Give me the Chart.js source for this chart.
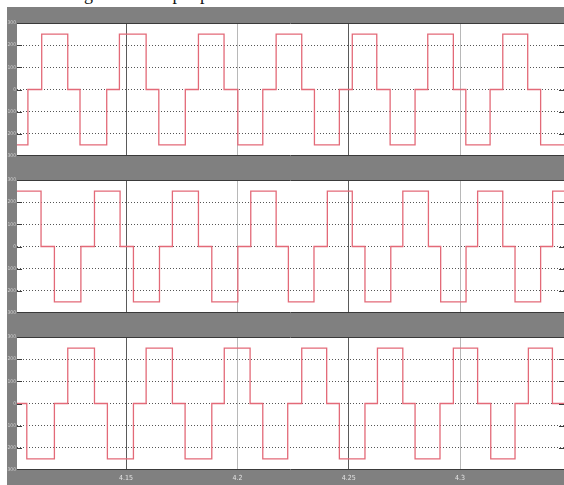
<!DOCTYPE html>
<html>
<head>
<meta charset="utf-8">
<script src="https://cdn.jsdelivr.net/npm/chart.js@4"></script>
<style>
  body { margin: 0; background: #fff; width: 564px; height: 485px; overflow: hidden; position: relative; }
  #caption { position: absolute; left: 2px; top: -16px; font-family: "Liberation Serif", serif; font-size: 18px; color: #111; white-space: nowrap; }
  #frame { position: absolute; left: 7px; top: 7px; width: 557px; height: 478px; background: #808080; }
  canvas { position: absolute; left: 7px; }
</style>
</head>
<body>
<div id="caption">of the voltage at the output phases is shown below.</div>
<div id="frame"></div>
<canvas id="top" width="557" height="143" style="top:18px"></canvas>
<canvas id="mid" width="557" height="143" style="top:175px"></canvas>
<canvas id="bot" width="557" height="153" style="top:332px"></canvas>
<script>
// time axis (s)
const xMin = 4.101;
const xMax = 4.3467;
const xTicks = [4.15, 4.2, 4.25, 4.3];
const yTicks = [-300, -200, -100, 0, 100, 200, 300];

// switching instants and the level held after each one
const topEdges = [4.101, 4.1059, 4.1121, 4.1238, 4.1293, 4.1413, 4.1470, 4.1590, 4.1647, 4.1766,
  4.1825, 4.1940, 4.2002, 4.2114, 4.2174, 4.2289, 4.2346, 4.2458, 4.2516, 4.2626,
  4.2686, 4.2798, 4.2855, 4.2970, 4.3026, 4.3135, 4.3192, 4.3304, 4.3362];
const topLevels = [-250, 0, 250, 0, -250, 0, 250, 0, -250, 0,
  250, 0, -250, 0, 250, 0, -250, 0, 250, 0,
  -250, 0, 250, 0, -250, 0, 250, 0, -250];

const midEdges = [4.101, 4.1118, 4.1178, 4.1297, 4.1358, 4.1473, 4.1533, 4.1650, 4.1708, 4.1825,
  4.1885, 4.2002, 4.2060, 4.2174, 4.2229, 4.2344, 4.2404, 4.2516, 4.2573, 4.2689,
  4.2743, 4.2858, 4.2913, 4.3027, 4.3079, 4.3192, 4.3247, 4.3362, 4.3416];
const midLevels = [250, 0, -250, 0, 250, 0, -250, 0, 250, 0,
  -250, 0, 250, 0, -250, 0, 250, 0, -250, 0,
  250, 0, -250, 0, 250, 0, -250, 0, 250];

const botEdges = [4.101, 4.1054, 4.1178, 4.1238, 4.1358, 4.1416, 4.1533, 4.1590, 4.1708, 4.1765,
  4.1885, 4.1941, 4.2057, 4.2114, 4.2226, 4.2289, 4.2401, 4.2458, 4.2573, 4.2629,
  4.2743, 4.2798, 4.2910, 4.2970, 4.3079, 4.3138, 4.3247, 4.3307, 4.3415];
const botLevels = [0, -250, 0, 250, 0, -250, 0, 250, 0, -250,
  0, 250, 0, -250, 0, 250, 0, -250, 0, 250,
  0, -250, 0, 250, 0, -250, 0, 250, 0];

// white plot area, dark frame lines and small ticks at the grid rows
const panelPlugin = {
  id: 'panel',
  beforeDraw(chart) {
    const a = chart.chartArea, c = chart.ctx;
    c.save();
    c.fillStyle = '#ffffff';
    c.fillRect(a.left, a.top, a.right - a.left, a.bottom - a.top);
    c.restore();
  },
  afterDraw(chart) {
    const a = chart.chartArea, c = chart.ctx, y = chart.scales.y;
    c.save();
    c.strokeStyle = '#3a3a3a';
    c.lineWidth = 1;
    c.beginPath();
    c.moveTo(a.left, a.top + 0.5); c.lineTo(a.right, a.top + 0.5);
    c.moveTo(a.left, a.bottom - 0.5); c.lineTo(a.right, a.bottom - 0.5);
    yTicks.slice(1, -1).forEach(v => {
      const py = Math.round(y.getPixelForValue(v)) + 0.5;
      c.moveTo(a.left, py); c.lineTo(a.left + 5, py);
      c.moveTo(a.right - 5, py); c.lineTo(a.right, py);
    });
    c.stroke();
    c.restore();
  }
};

function makePanel(id, edges, levels, showX) {
  const pts = edges.map((t, i) => ({ x: t, y: levels[i] }));
  pts.push({ x: xMax, y: levels[levels.length - 1] });

  new Chart(document.getElementById(id), {
    type: 'line',
    data: {
      datasets: [{
        data: pts,
        stepped: true,
        borderColor: '#e36a78',
        borderWidth: 1.3,
        pointRadius: 0,
        fill: false
      }]
    },
    options: {
      responsive: false,
      animation: false,
      layout: { padding: { top: 5, bottom: showX ? 0 : 5, left: 0, right: 0 } },
      plugins: { legend: { display: false }, tooltip: { enabled: false } },
      scales: {
        x: {
          type: 'linear',
          min: xMin,
          max: xMax,
          afterBuildTicks: s => { s.ticks = xTicks.map(v => ({ value: v })); },
          afterFit: s => { s.height = showX ? 15 : 0; },
          grid: {
            drawTicks: false,
            color: c => (c.index % 2 === 0 ? '#5a5a5a' : '#b8b8b8')
          },
          border: { display: false },
          ticks: {
            display: showX,
            padding: 4,
            color: '#e4e4e4',
            font: { family: 'DejaVu Sans Condensed', size: 7 },
            callback: v => String(v)
          }
        },
        y: {
          min: -300,
          max: 300,
          afterBuildTicks: s => { s.ticks = yTicks.map(v => ({ value: v })); },
          afterFit: s => { s.width = 10; },
          grid: {
            drawTicks: false,
            color: c => (Math.abs(c.tick.value) === 300 ? 'rgba(0,0,0,0)' : '#555555')
          },
          border: { display: false, dash: [1, 2] },
          ticks: {
            padding: 1,
            color: '#cfcfcf',
            font: { family: 'DejaVu Sans Condensed', size: 5 },
            callback: v => String(v)
          }
        }
      }
    },
    plugins: [panelPlugin]
  });
}

makePanel('top', topEdges, topLevels, false);
makePanel('mid', midEdges, midLevels, false);
makePanel('bot', botEdges, botLevels, true);
</script>
</body>
</html>
